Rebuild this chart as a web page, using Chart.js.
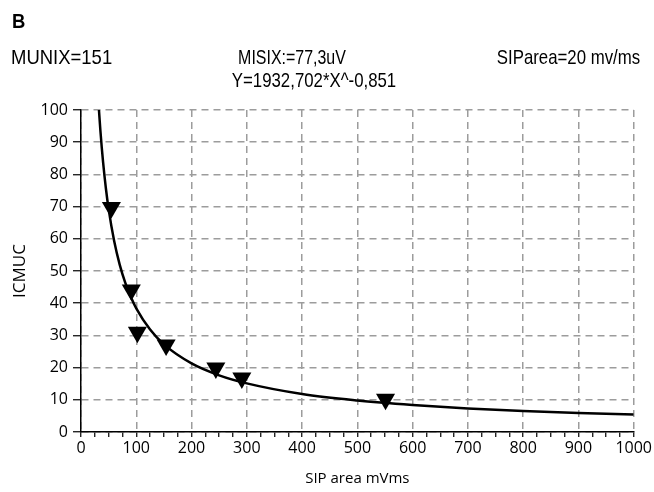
<!DOCTYPE html>
<html>
<head>
<meta charset="utf-8">
<script src="https://cdn.jsdelivr.net/npm/chart.js@4.4.0/dist/chart.umd.min.js"></script>
<style>
  body { margin: 0; background: #fff; }
  #wrap { position: relative; width: 654px; height: 492px; }
  .t { position: absolute; font-family: "Liberation Sans", Arial, sans-serif;
       font-size: 21px; color: #000; white-space: nowrap; line-height: 1; }
  .l { transform: scaleX(0.88); transform-origin: left top; }
  .c { transform: translateX(-50%) scaleX(0.8); transform-origin: center top; }
  .r { transform: scaleX(0.8); transform-origin: right top; }
</style>
</head>
<body>
<div id="wrap">
  <canvas id="fit-chart" width="654" height="492"></canvas>
  <div class="t l" style="left:12px;top:10px;font-weight:bold;">B</div>
  <div class="t l" style="left:11px;top:46px;">MUNIX=151</div>
  <div class="t c" style="left:292px;top:46px;transform:translateX(-50%) scaleX(0.76);">MISIX:=77,3uV</div>
  <div class="t c" style="left:314px;top:69px;">Y=1932,702*X^-0,851</div>
  <div class="t r" style="right:14px;top:46px;">SIParea=20 mv/ms</div>
</div>
<script>
// fitted curve
var fitX = [32.5, 35, 40, 45, 50, 60, 70, 80, 90, 100, 125, 150, 200, 250, 300, 400, 500, 600, 700, 800, 900, 1000];
var fitY = [100, 93.8, 83.7, 75.7, 69.2, 59.3, 52.0, 46.4, 42.0, 38.4, 31.8, 27.2, 21.3, 17.6, 15.1, 11.8, 9.8, 8.4, 7.3, 6.5, 5.9, 5.4];

// measured points (triangles)
var markX = [55, 91, 102, 154, 244, 291, 551];
var markY = [69.7, 44.1, 31, 27, 19.9, 16.8, 10.2];

var xMin = 0, xMax = 1000, xStep = 100;
var yMin = 0, yMax = 100, yStep = 10;

var gridGray = '#9c9c9c';
var tickFont = { family: 'Open Sans', size: 16 };

var fitPts = fitX.map(function (x, i) { return { x: x, y: fitY[i] }; });
var markPts = markX.map(function (x, i) { return { x: x, y: markY[i] }; });

var layout = {
    type: 'scatter',
    data: {
        datasets: [{
            label: 'measured',
            data: markPts,
            pointStyle: 'triangle',
            rotation: 180,
            pointRadius: 11,
            pointHoverRadius: 11,
            backgroundColor: '#000',
            borderColor: '#000',
            borderWidth: 0,
            showLine: false,
            order: 0
        }, {
            label: 'fit',
            data: fitPts,
            showLine: true,
            pointRadius: 0,
            borderColor: '#000',
            borderWidth: 2.5,
            cubicInterpolationMode: 'monotone',
            order: 1
        }]
    },
    options: {
        responsive: false,
        animation: false,
        layout: { padding: { left: 0, top: 110, right: 19, bottom: 0 } },
        plugins: {
            legend: { display: false },
            tooltip: { enabled: false }
        },
        scales: {
            x: {
                type: 'linear',
                min: xMin,
                max: xMax,
                afterFit: function (s) { s.height = 60; },
                ticks: {
                    stepSize: 25,
                    autoSkip: false,
                    maxRotation: 0,
                    color: '#000',
                    font: tickFont,
                    padding: 2,
                    callback: function (v) { return v % xStep === 0 ? v : ''; }
                },
                grid: {
                    color: function (c) { return c.tick && c.tick.value % xStep === 0 ? gridGray : 'rgba(0,0,0,0)'; },
                    lineWidth: 1.5,
                    tickColor: '#000',
                    tickLength: 5,
                    tickWidth: 1.2
                },
                border: { color: '#000', width: 1.5, dash: [7, 5] },
                title: {
                    display: true,
                    text: 'SIP area mVms',
                    color: '#000',
                    font: { family: 'Open Sans', size: 15 },
                    padding: { top: 0, bottom: 4 }
                }
            },
            y: {
                min: yMin,
                max: yMax,
                afterFit: function (s) { s.width = 81; },
                ticks: {
                    stepSize: yStep,
                    color: '#000',
                    font: tickFont,
                    padding: 5
                },
                grid: {
                    color: gridGray,
                    lineWidth: 1.5,
                    tickColor: '#000',
                    tickLength: 8,
                    tickWidth: 1.2
                },
                border: { color: '#000', width: 1.5, dash: [7, 5] },
                title: {
                    display: true,
                    text: 'ICMUC',
                    color: '#000',
                    font: { family: 'Open Sans', size: 17 },
                    padding: { top: 10, bottom: 0 }
                }
            }
        }
    }
};

const fitChart = document.getElementById('fit-chart');
new Chart(fitChart, layout);
</script>
</body>
</html>
